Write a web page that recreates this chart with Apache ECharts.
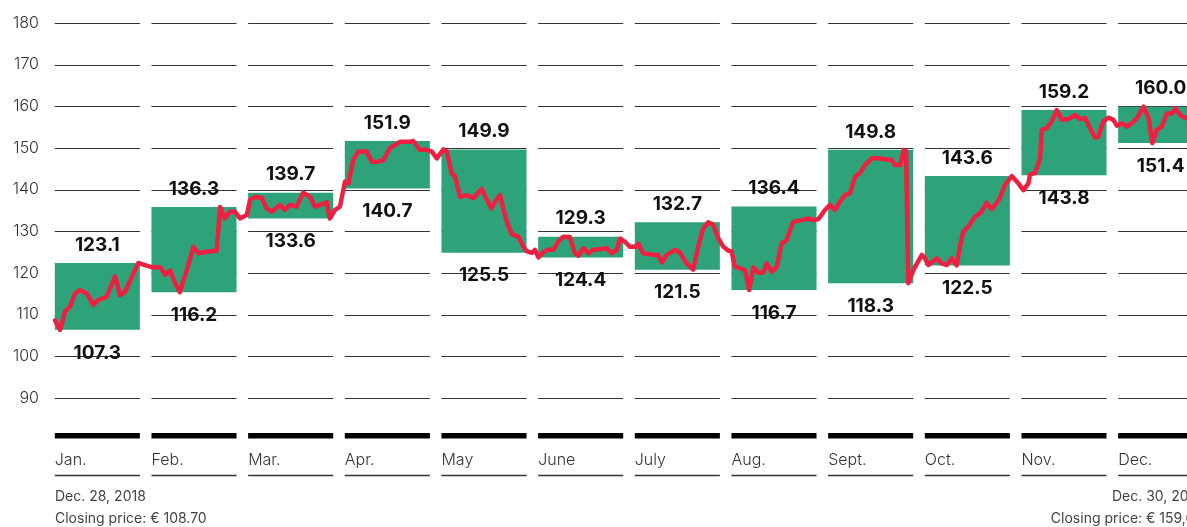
<!DOCTYPE html>
<html>
<head>
<meta charset="utf-8">
<script src="https://cdn.jsdelivr.net/npm/echarts@6/dist/echarts.min.js"></script>
<style>
html,body{margin:0;padding:0;background:#fff;}
#chart{width:1187px;height:527px;}
</style>
</head>
<body>
<div id="chart"></div>
<script>
var months = ['Jan.', 'Feb.', 'Mar.', 'Apr.', 'May', 'June', 'July', 'Aug.', 'Sept.', 'Oct.', 'Nov.', 'Dec.'];
var monthHigh = [123.1, 136.3, 139.7, 151.9, 149.9, 129.3, 132.7, 136.4, 149.8, 143.6, 159.2, 160.0];
var monthLow = [107.3, 116.2, 133.6, 140.7, 125.5, 124.4, 121.5, 116.7, 118.3, 122.5, 143.8, 151.4];
var gridTicks = [90, 100, 110, 120, 130, 140, 150, 160, 170, 180];

// Tag im Jahr (0..365) und Kurs
var priceDays = [0, 1.6, 3.2, 4.8, 6.4, 7.9, 10.1, 12.2, 13.8, 16.4, 19.1, 20.7, 22.3, 23.8, 26.5, 28.6, 30.7, 33.4, 35.0, 36.6,
    38.2, 39.7, 41.9, 44.0, 45.6, 48.7, 51.4, 52.5, 54.0, 55.6, 57.2, 58.8, 61.0, 62.0, 63.6, 65.7, 67.3, 68.9, 71.5, 73.1,
    74.7, 76.8, 78.9, 81.1, 82.7, 84.3, 86.4, 87.4, 89.0, 90.6, 92.2, 93.3, 94.8, 96.4, 99.1, 100.7, 102.8, 104.4, 106.5, 109.7,
    112.9, 113.9, 116.0, 118.2, 119.8, 121.4, 123.5, 124.6, 126.1, 127.2, 128.8, 130.9, 133.0, 135.7, 137.3, 138.8, 139.9, 141.5, 142.5, 143.8,
    145.2, 147.3, 148.9, 149.9, 151.6, 152.6, 153.7, 155.2, 156.8, 158.4, 160.0, 161.6, 163.7, 165.3, 166.4, 168.0, 169.6, 171.1, 173.8, 175.4,
    177.0, 178.6, 179.6, 181.2, 182.8, 184.4, 185.5, 187.0, 190.2, 191.8, 192.9, 194.5, 197.1, 198.7, 200.8, 202.9, 204.5, 206.1, 207.7, 209.3,
    210.9, 212.5, 214.1, 215.1, 216.2, 217.8, 219.4, 220.7, 222.0, 223.6, 225.2, 226.3, 227.9, 229.5, 231.0, 232.6, 234.7, 237.4, 239.5, 241.1,
    242.7, 244.8, 246.4, 248.0, 249.6, 251.2, 252.8, 254.4, 255.9, 257.5, 259.7, 261.8, 263.9, 266.0, 267.1, 268.7, 269.9, 270.6, 271.3, 272.9,
    275.6, 276.6, 277.7, 280.4, 281.9, 283.5, 285.1, 286.7, 287.7, 288.8, 290.4, 292.5, 294.6, 296.2, 297.8, 299.4, 300.4, 302.0, 304.2, 306.3,
    307.9, 309.5, 310.0, 311.6, 313.2, 313.7, 315.3, 316.9, 318.5, 320.1, 322.2, 324.3, 325.9, 327.5, 329.1, 330.7, 331.7, 333.3, 334.9, 336.5,
    337.6, 339.2, 340.8, 342.4, 344.0, 346.1, 347.7, 348.9, 350.3, 351.9, 353.5, 355.1, 356.2, 357.8, 359.4, 362.5, 365];
var prices = [109.5, 107.3, 111.6, 112.8, 115.9, 116.7, 115.9, 113.2, 114.4, 115.1, 119.9, 115.5, 116.3, 118.7, 123.1, 122.6, 122.1, 122.1, 120.3, 121.3,
    118.3, 116.2, 121.4, 126.9, 125.4, 125.8, 126.0, 136.3, 133.6, 135.2, 135.2, 133.6, 134.4, 138.0, 138.7, 138.5, 136.0, 135.2, 136.8, 135.6,
    136.8, 136.4, 139.7, 138.7, 136.4, 136.8, 137.4, 133.6, 135.6, 136.4, 142.3, 141.9, 147.4, 149.4, 149.4, 147.0, 147.0, 147.4, 150.2, 151.7,
    151.7, 151.9, 149.8, 149.8, 149.4, 147.8, 149.9, 149.4, 144.3, 143.5, 138.7, 139.1, 138.4, 140.6, 138.0, 136.0, 137.6, 139.1, 136.0, 132.5,
    129.9, 129.3, 127.0, 125.9, 125.5, 126.2, 124.4, 125.6, 126.2, 126.2, 128.1, 129.3, 129.2, 125.4, 124.8, 126.6, 125.4, 126.2, 126.4, 126.6,
    125.4, 126.2, 128.8, 128.1, 126.9, 126.9, 127.6, 125.4, 125.0, 125.0, 123.2, 125.0, 126.2, 125.5, 123.0, 121.5, 126.9, 131.3, 132.7, 132.1,
    128.9, 126.9, 126.0, 125.8, 122.2, 121.8, 121.4, 116.7, 122.1, 120.8, 120.8, 123.0, 121.0, 122.2, 127.7, 128.5, 132.8, 133.2, 133.6, 133.2,
    133.4, 135.6, 136.8, 135.6, 137.6, 139.1, 139.6, 143.5, 144.3, 146.2, 147.8, 147.8, 147.6, 147.4, 146.2, 146.2, 149.8, 149.4, 118.3, 121.4,
    125.0, 124.2, 122.6, 124.2, 123.0, 122.6, 124.2, 122.5, 126.9, 130.5, 131.7, 134.0, 135.2, 137.3, 135.8, 137.3, 138.4, 141.5, 143.6, 141.9,
    140.3, 141.9, 144.0, 144.3, 147.8, 154.5, 154.9, 156.5, 159.2, 156.9, 157.1, 158.0, 157.1, 157.3, 154.9, 152.7, 152.9, 156.5, 157.4, 156.9,
    155.5, 156.1, 155.3, 156.1, 157.3, 160.0, 157.3, 151.4, 154.5, 155.3, 158.4, 158.4, 159.6, 158.0, 157.3, 158.3, 159.6];

var green = '#2ea37a';
var red = '#ef1f42';
var labelFont = 'Inter, "Noto Sans", sans-serif';

var chart = echarts.init(document.getElementById('chart'), null, {renderer: 'canvas'});

//Monatsspalten: kurze Rasterlinien, dicker Balken, Monatsname
function renderColumn(params, api){
    var idx = api.value(0);
    var w = api.size([1, 0])[0] * 0.88;
    var x0 = api.coord([idx, 90])[0] - w / 2;
    var base = api.coord([idx, 90])[1];
    var children = [];
    for(var i = 0 ; i < gridTicks.length ; i++){
        var y = Math.round(api.coord([idx, gridTicks[i]])[1]) + 0.5;
        children.push({type: 'line', shape: {x1: x0, y1: y, x2: x0 + w, y2: y},
            style: {stroke: '#333', lineWidth: 1}});
    }
    children.push({type: 'rect', shape: {x: x0, y: base + 35, width: w, height: 5.5}, style: {fill: '#000'}});
    children.push({type: 'text', style: {text: months[idx], x: x0, y: base + 62, fill: '#333',
        fontSize: 16, fontFamily: labelFont, fontWeight: 300, align: 'left', verticalAlign: 'middle'}});
    children.push({type: 'line', shape: {x1: x0, y1: base + 77.5, x2: x0 + w, y2: base + 77.5},
        style: {stroke: '#333', lineWidth: 1.5}});
    return {type: 'group', children: children};
}

//Hoch/Tief-Kasten mit Werten
function renderBox(params, api){
    var idx = api.value(0);
    var w = api.size([1, 0])[0] * 0.88;
    var pLow = api.coord([idx, api.value(1)]);
    var pHigh = api.coord([idx, api.value(2)]);
    var x0 = pLow[0] - w / 2;
    return {type: 'group', children: [
        {type: 'rect', shape: {x: x0, y: pHigh[1], width: w, height: pLow[1] - pHigh[1]}, style: {fill: green}},
        {type: 'text', style: {text: monthHigh[idx].toFixed(1), x: pLow[0], y: pHigh[1] - 18, fill: '#111',
            fontSize: 19, fontWeight: 700, fontFamily: labelFont, align: 'center', verticalAlign: 'middle'}},
        {type: 'text', style: {text: monthLow[idx].toFixed(1), x: pLow[0], y: pLow[1] + 23, fill: '#111',
            fontSize: 19, fontWeight: 700, fontFamily: labelFont, align: 'center', verticalAlign: 'middle'}}
    ]};
}

var option = {
    animation: false,
    grid: {left: 49, top: 23, width: 1160, height: 375, outerBoundsMode: 'none', containLabel: false},
    xAxis: [
        {type: 'category', data: months, show: false},
        {type: 'value', min: -1.91, max: 366.91, show: false}
    ],
    yAxis: [
        {type: 'value', min: 90, max: 180, interval: 10,
            axisLine: {show: false}, axisTick: {show: false}, splitLine: {show: false},
            axisLabel: {margin: 10, color: '#333', fontSize: 16, fontWeight: 300, fontFamily: labelFont,
                padding: [0, 0, 10, 0]}},
        {type: 'value', min: 91.2, max: 179.76, show: false}
    ],
    series: [
        {type: 'custom', xAxisIndex: 0, yAxisIndex: 0, renderItem: renderColumn, silent: true, z: 1,
            data: months.map(function(m, i){ return [i]; })},
        {type: 'custom', xAxisIndex: 0, yAxisIndex: 1, renderItem: renderBox, silent: true, z: 2,
            encode: {x: 0, y: [1, 2]},
            data: months.map(function(m, i){ return [i, monthLow[i], monthHigh[i]]; })},
        {type: 'line', xAxisIndex: 1, yAxisIndex: 1, showSymbol: false, symbol: 'none', z: 3,
            lineStyle: {color: red, width: 4.5, join: 'round', cap: 'round'},
            data: priceDays.map(function(d, i){ return [d, prices[i]]; })}
    ],
    graphic: [
        {type: 'text', left: 55, top: 490, style: {text: 'Dec. 28, 2018', fill: '#444', fontSize: 14, fontFamily: labelFont}},
        {type: 'text', left: 55, top: 512, style: {text: 'Closing price: € 108.70', fill: '#444', fontSize: 14, fontFamily: labelFont}},
        {type: 'text', x: 1203, y: 490, style: {text: 'Dec. 30, 2019', fill: '#444', fontSize: 14, fontFamily: labelFont, align: 'right'}},
        {type: 'text', x: 1203, y: 512, style: {text: 'Closing price: € 159,60', fill: '#444', fontSize: 14, fontFamily: labelFont, align: 'right'}}
    ]
};
chart.setOption(option);
</script>
</body>
</html>
